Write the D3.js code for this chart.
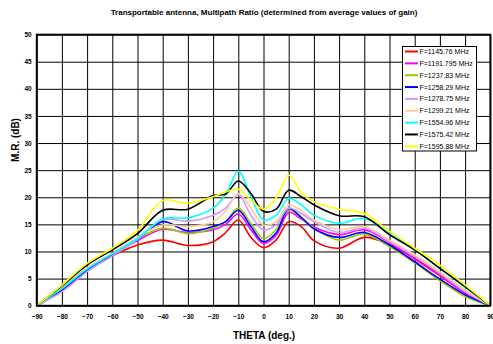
<!DOCTYPE html>
<html>
<head>
<meta charset="utf-8">
<script src="https://cdn.jsdelivr.net/npm/d3@7"></script>
<style>
  body { margin: 0; background: #fff; }
  svg { display: block; font-family: "Liberation Sans", Arial, sans-serif; }
</style>
</head>
<body>
<svg id="chart" width="493" height="344"></svg>
<script>
// angles (deg.) where the curves were read
const theta = [-90, -80, -70, -60, -50, -40, -30, -20, -15, -10, -5, 0, 5, 10, 15, 20, 30, 40, 50, 60, 70, 80, 90];

const seriesNames = ["F=1145.76 MHz", "F=1191.795 MHz", "F=1237.83 MHz", "F=1258.29 MHz", "F=1278.75 MHz",
  "F=1299.21 MHz", "F=1554.96 MHz", "F=1575.42 MHz", "F=1595.88 MHz"];
const seriesColors = ["#ff0000", "#ff00ff", "#99cc00", "#0000ff", "#cc99ff", "#ffcc99", "#00ffff", "#000000", "#ffff00"];

const f1145 = [0, 3.4, 6.7, 9.2, 11.2, 12.1, 11.1, 11.8, 13.5, 15.8, 12.6, 10.7, 12.1, 15.5, 14.6, 12.0, 10.6, 12.6, 11.3, 8.7, 5.7, 2.5, 0];
const f1191 = [0, 2.9, 6.5, 9.3, 12.0, 14.1, 13.5, 14.0, 15.0, 16.9, 14.0, 11.5, 13.0, 17.2, 16.0, 14.5, 13.1, 14.0, 11.6, 8.6, 5.5, 2.3, 0];
const f1237 = [0, 3.0, 6.7, 9.5, 12.3, 14.3, 13.3, 14.3, 15.5, 18.0, 15.2, 12.4, 14.0, 17.7, 16.2, 14.3, 12.1, 13.2, 10.9, 7.9, 4.6, 1.7, 0];
const f1258 = [0, 2.8, 6.5, 9.3, 12.2, 15.5, 13.8, 14.6, 15.5, 17.6, 14.6, 11.8, 13.4, 17.9, 16.3, 14.2, 12.6, 13.5, 11.2, 8.1, 4.9, 2.0, 0];
const f1278 = [0, 2.6, 6.3, 9.2, 12.2, 15.9, 15.6, 16.7, 18.0, 20.5, 16.7, 14.0, 14.9, 18.0, 17.0, 15.5, 13.5, 14.3, 11.8, 9.1, 5.9, 2.6, 0];
const f1299 = [0, 3.3, 7.0, 9.7, 12.6, 14.9, 14.6, 15.5, 17.5, 20.7, 18.0, 14.9, 15.5, 18.6, 17.5, 15.8, 14.0, 14.6, 12.1, 9.4, 6.3, 2.9, 0];
const f1554 = [0, 3.2, 6.8, 9.6, 12.4, 16.0, 16.2, 18.0, 20.5, 24.8, 20.1, 15.8, 16.7, 19.8, 18.6, 16.7, 15.2, 16.1, 13.3, 10.3, 6.9, 3.4, 0];
const f1575 = [0, 3.7, 7.5, 10.3, 13.3, 17.6, 17.8, 20.3, 20.6, 23.0, 20.7, 17.4, 17.8, 21.3, 20.1, 18.6, 16.6, 16.4, 13.1, 10.3, 6.9, 3.5, 0];
const f1595 = [0, 3.8, 7.8, 10.6, 13.9, 19.4, 18.9, 20.1, 21.0, 21.5, 19.5, 17.8, 19.9, 24.1, 20.8, 19.2, 17.8, 17.0, 13.7, 10.6, 7.5, 3.8, 0];

const seriesValues = [f1145, f1191, f1237, f1258, f1278, f1299, f1554, f1575, f1595];

const xTicks = d3.range(-90, 91, 10);
const yTicks = d3.range(0, 51, 5);

const svg = d3.select("#chart");
const plotL = 36.7, plotR = 490.3, plotT = 34.6, plotB = 305.7;

const x = d3.scaleLinear().domain([-90, 90]).range([plotL, plotR]);
const y = d3.scaleLinear().domain([0, 50]).range([plotB, plotT]);

// title
svg.append("text")
  .attr("x", 264).attr("y", 15)
  .attr("text-anchor", "middle")
  .attr("font-size", 8).attr("font-weight", "bold")
  .text("Transportable antenna, Multipath Ratio (determined from average values of gain)");

// grid
svg.append("g")
  .attr("transform", `translate(0,${plotB})`)
  .call(d3.axisBottom(x).tickValues(xTicks).tickSize(-(plotB - plotT)).tickFormat(""))
  .call(g => g.select(".domain").remove())
  .call(g => g.selectAll("line").attr("stroke", "#000"));

svg.append("g")
  .attr("transform", `translate(${plotL},0)`)
  .call(d3.axisLeft(y).tickValues(yTicks).tickSize(-(plotR - plotL)).tickFormat(""))
  .call(g => g.select(".domain").remove())
  .call(g => g.selectAll("line").attr("stroke", "#000"));

// tick labels
svg.append("g")
  .attr("transform", `translate(0,${plotB})`)
  .call(d3.axisBottom(x).tickValues(xTicks).tickSize(0).tickPadding(9))
  .call(g => g.select(".domain").remove())
  .call(g => g.selectAll("text").attr("font-size", 6.5).attr("font-weight", "bold")
    .attr("font-family", "'Liberation Sans', Arial, sans-serif").attr("fill", "#000"));

svg.append("g")
  .attr("transform", `translate(${plotL},0)`)
  .call(d3.axisLeft(y).tickValues(yTicks).tickSize(0).tickPadding(5))
  .call(g => g.select(".domain").remove())
  .call(g => g.selectAll("text").attr("font-size", 6.5).attr("font-weight", "bold")
    .attr("font-family", "'Liberation Sans', Arial, sans-serif").attr("fill", "#000"));

// axis titles
svg.append("text")
  .attr("x", 264).attr("y", 339)
  .attr("text-anchor", "middle")
  .attr("font-size", 10).attr("font-weight", "bold")
  .text("THETA (deg.)");

svg.append("text")
  .attr("transform", "translate(19,140) rotate(-90)")
  .attr("text-anchor", "middle")
  .attr("font-size", 10).attr("font-weight", "bold")
  .text("M.R. (dB)");

// curves
const line = d3.line()
  .x((d, i) => x(theta[i]))
  .y(d => y(d))
  .curve(d3.curveCatmullRom.alpha(0.5));

svg.append("g")
  .selectAll("path")
  .data(seriesValues)
  .join("path")
  .attr("d", line)
  .attr("fill", "none")
  .attr("stroke", (d, i) => seriesColors[i])
  .attr("stroke-width", 1.6);

// frame
svg.append("rect")
  .attr("x", plotL).attr("y", plotT)
  .attr("width", plotR - plotL).attr("height", plotB - plotT)
  .attr("fill", "none").attr("stroke", "#000").attr("stroke-width", 1.8);

// legend
const legend = svg.append("g");
legend.append("rect")
  .attr("x", 402.5).attr("y", 46.5)
  .attr("width", 74).attr("height", 104.5)
  .attr("fill", "#fff").attr("stroke", "#000").attr("stroke-width", 1);

const items = legend.selectAll("g.item")
  .data(seriesNames)
  .join("g")
  .attr("class", "item")
  .attr("transform", (d, i) => `translate(405,${51.5 + i * 11.85})`);

items.append("line")
  .attr("x1", 0).attr("x2", 13)
  .attr("stroke", (d, i) => seriesColors[i])
  .attr("stroke-width", 2);

items.append("text")
  .attr("x", 14.5).attr("y", 2.5)
  .attr("font-size", 7)
  .text(d => d);
</script>
</body>
</html>
